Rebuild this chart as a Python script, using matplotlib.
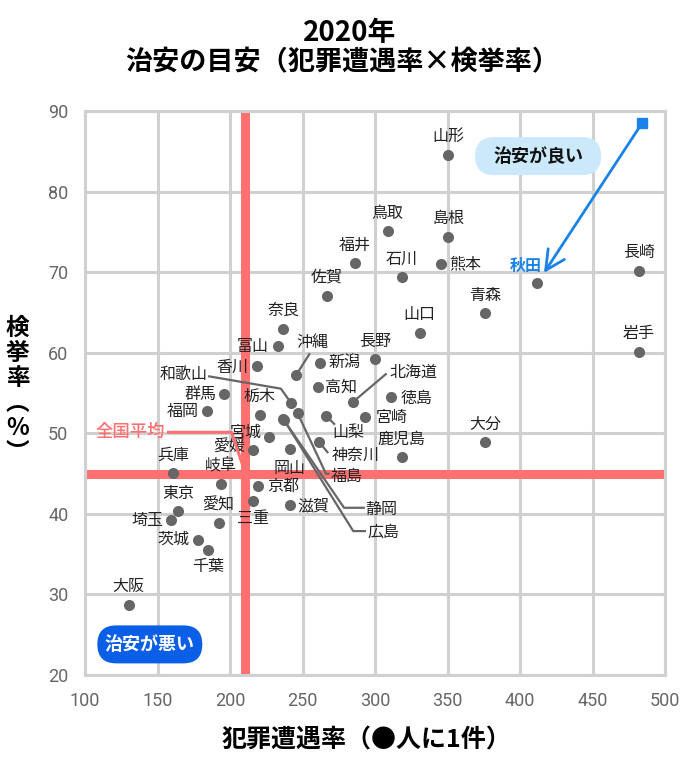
import matplotlib
matplotlib.use("Agg")
import matplotlib.pyplot as plt
from matplotlib.lines import Line2D
from matplotlib.patches import FancyBboxPatch
from matplotlib.transforms import IdentityTransform

plt.rcParams['font.family'] = ['Noto Sans CJK JP', 'DejaVu Sans']

# ---------------- data ----------------
prefectures = ["山形", "鳥取", "島根", "福井", "熊本", "石川", "佐賀", "青森", "奈良", "山口",
               "秋田", "長崎", "岩手", "大分", "沖縄", "新潟", "長野", "富山", "香川", "高知",
               "北海道", "徳島", "宮崎", "山梨", "神奈川", "鹿児島", "栃木", "和歌山", "福島", "静岡",
               "広島", "宮城", "愛媛", "岡山", "京都", "三重", "滋賀", "兵庫", "岐阜", "東京",
               "埼玉", "愛知", "茨城", "千葉", "大阪", "群馬", "福岡"]
crime_rate = [350.4, 308.7, 350.4, 286.3, 345.8, 318.3, 266.8, 376.1, 236.8, 330.7,
              412.0, 481.9, 481.9, 376.1, 245.5, 262.0, 300.0, 233.1, 218.4, 261.0,
              284.9, 310.8, 293.1, 266.1, 261.5, 318.3, 220.5, 242.0, 246.6, 236.6,
              237.4, 227.1, 216.2, 241.4, 219.1, 216.2, 241.4, 160.7, 193.9, 164.1,
              159.6, 192.1, 177.9, 184.7, 130.2, 196.2, 184.3]
arrest_rate = [84.6, 75.1, 74.4, 71.1, 71.0, 69.4, 67.1, 64.9, 63.0, 62.5,
               68.6, 70.2, 60.1, 48.9, 57.2, 58.7, 59.2, 60.8, 58.3, 55.7,
               53.9, 54.5, 52.0, 52.2, 48.9, 47.1, 52.3, 53.8, 52.5, 51.8,
               51.6, 49.5, 47.9, 48.0, 43.4, 41.6, 41.1, 45.1, 43.7, 40.3,
               39.2, 38.9, 36.8, 35.5, 28.7, 54.9, 52.8]
avg_crime = 210.0
avg_arrest = 45.0
x_ticks = [100, 150, 200, 250, 300, 350, 400, 450, 500]
y_ticks = [20, 30, 40, 50, 60, 70, 80, 90]
highlight = "秋田"

title_year = "2020年"
title_main = "治安の目安（犯罪遭遇率×検挙率）"
x_title = "犯罪遭遇率（●人に1件）"
y_title_chars = ["検", "挙", "率", "︵", "%", "︶"]

# ---------------- label layout (pixels; +x right, +y down) ----------------
DEFAULT = (0, -18, 'center')
label_pos = {
    "鹿児島": (0, -17, 'center'),
    "岡山": (0, 19, 'center'), "三重": (0, 17.6, 'center'), "千葉": (0, 16.7, 'center'),
    "熊本": (8, 0, 'left'), "新潟": (9, 0, 'left'), "高知": (7, 0, 'left'),
    "徳島": (10, 1, 'left'), "宮崎": (10.5, 0, 'left'), "京都": (10, 0, 'left'),
    "滋賀": (7.6, 1, 'left'),
    "富山": (-9, 0, 'right'), "香川": (-8, 1, 'right'), "宮城": (-8, -5, 'right'),
    "愛媛": (-8, -3, 'right'), "埼玉": (-8.4, 0, 'right'), "茨城": (-8.3, 0, 'right'),
    "群馬": (-8.3, 0.5, 'right'), "福岡": (-8.4, 1, 'right'),
    "秋田": (-12, -17, 'center'),
    "沖縄": (16.7, -33, 'center'), "北海道": (36.7, -30, 'left'),
    "山梨": (6.7, 17, 'left'), "神奈川": (12.7, 13.5, 'left'),
    "和歌山": (-83.4, -28, 'right'), "福島": (33.4, 63, 'left'),
    "静岡": (82.4, 90.7, 'left'), "広島": (83.3, 112, 'left'),
}
leaders = {
    "沖縄": [(0, 0), (13.3, -21)],
    "北海道": [(0, 0), (32.7, -27.7)],
    "山梨": [(0, 0), (8.3, 8.3)],
    "神奈川": [(0, 0), (8.3, 10)],
    "和歌山": [(-81.7, -26.3), (-10, -14), (0, 0)],
    "福島": [(0, 0), (28.4, 60.6), (31, 60.6)],
    "静岡": [(0, 0), (61, 89), (80.7, 89)],
    "広島": [(0, 0), (69, 110.7), (80.7, 110.7)],
}

RED = '#ff7070'
BLUE = '#1a82e8'
GRID = '#d0d0d0'
DOT = '#666666'

fig = plt.figure(figsize=(7, 7.7), dpi=100)
ax = fig.add_axes([85 / 700, 1 - 675 / 770, 580 / 700, 564 / 770])
ax.set_xlim(100, 500)
ax.set_ylim(20, 90)
ax.set_xticks(x_ticks)
ax.set_yticks(y_ticks)
ax.grid(True, color=GRID, linewidth=2.2, zorder=0)
ax.set_axisbelow(True)
for s in ax.spines.values():
    s.set_color(GRID)
    s.set_linewidth(2.2)
ax.tick_params(length=0, pad=12, labelsize=13, labelcolor='#666666')
for lab in ax.get_xticklabels() + ax.get_yticklabels():
    lab.set_fontfamily(['Roboto', 'DejaVu Sans'])

# average lines
ax.axvline(avg_crime, color=RED, linewidth=6.5, zorder=1)
ax.axhline(avg_arrest, color=RED, linewidth=6.5, zorder=1)

# points
ax.scatter(crime_rate, arrest_rate, s=64, color=DOT, zorder=4, linewidths=0)

PT = 0.72  # px -> points at 100 dpi
for name, x, y in zip(prefectures, crime_rate, arrest_rate):
    dx, dy, ha = label_pos.get(name, DEFAULT)
    kw = dict(fontsize=11.5, color='#222222')
    if name == highlight:
        kw = dict(fontsize=11.5, color=BLUE, fontweight='bold')
    ax.annotate(name, (x, y), xytext=(dx * PT, -dy * PT), textcoords='offset points',
                ha=ha, va='center', zorder=5, **kw)

# leader lines (drawn in pixel space relative to each point)
fig.canvas.draw()
lookup = {n: (x, y) for n, x, y in zip(prefectures, crime_rate, arrest_rate)}
for name, verts in leaders.items():
    bx, by = ax.transData.transform(lookup[name])
    xs = [bx + vx for vx, vy in verts]
    ys = [by - vy for vx, vy in verts]
    fig.add_artist(Line2D(xs, ys, color=DOT, linewidth=1.6, transform=IdentityTransform(), zorder=3))

# 全国平均 label with leader
ax_, ay_ = ax.transData.transform((avg_crime, avg_arrest))
avg_leader = [(-76, -41.3), (-13, -41.3), (0, -3)]
fig.add_artist(Line2D([ax_ + vx for vx, vy in avg_leader], [ay_ - vy for vx, vy in avg_leader],
                      color=RED, linewidth=2.2, transform=IdentityTransform()))
ax.annotate("全国平均", (avg_crime, avg_arrest), xytext=(-79 * PT, 41.3 * PT),
            textcoords='offset points', ha='right', va='center', fontsize=12.5, color=RED,
            fontweight='medium', zorder=5)

# arrow to highlight
arrow_start = (484.2, 88.5)
arrow_end = (416.5, 69.9)
ax.annotate("", xy=arrow_end, xytext=arrow_start,
            arrowprops=dict(arrowstyle='->,head_length=0.7,head_width=0.35', color=BLUE,
                            lw=2.0, shrinkA=0, shrinkB=0, mutation_scale=20), zorder=6)
ax.plot([arrow_start[0]], [arrow_start[1]], marker='s', markersize=7, color=BLUE, zorder=7, clip_on=False)

# rounded badges
def badge(text, xy, w, h, face, tcolor):
    cx, cy = ax.transData.transform(xy)
    p = FancyBboxPatch((cx - w / 2, cy - h / 2), w, h,
                       boxstyle=f"round,pad=0,rounding_size={h / 2}",
                       facecolor=face, edgecolor='none', transform=IdentityTransform(), zorder=6)
    fig.add_artist(p)
    fig.text(cx / 700, cy / 770, text, ha='center', va='center', fontsize=13,
             fontweight='bold', color=tcolor, zorder=7)

badge("治安が良い", (412.5, 84.4), 126, 38, '#cce9fb', '#111111')
badge("治安が悪い", (144.7, 23.8), 105, 38, '#0a5fe6', '#ffffff')

# titles
fig.text(350 / 700, 1 - 33 / 770, title_year, ha='center', va='center', fontsize=20, fontweight='bold')
fig.text(342.5 / 700, 1 - 62 / 770, title_main, ha='center', va='center', fontsize=19.5, fontweight='bold')
fig.text(366.7 / 700, 1 - 740 / 770, x_title, ha='center', va='center', fontsize=18, fontweight='bold')
for i, ch in enumerate(y_title_chars):
    fig.text(17.5 / 700, 1 - (328 + 25 * i) / 770, ch, ha='center', va='center',
             fontsize=17, fontweight='bold')

fig.savefig("out.png", dpi=100)
